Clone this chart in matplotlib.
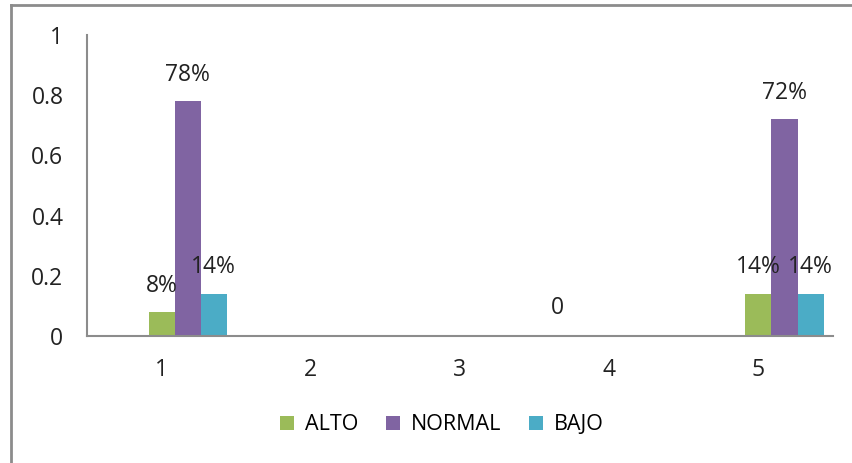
import matplotlib
matplotlib.use("Agg")
import matplotlib.pyplot as plt
import numpy as np

plt.rcParams['font.family'] = ['Open Sans', 'DejaVu Sans']

categories = [1, 2, 3, 4, 5]
series_names = ["ALTO", "NORMAL", "BAJO"]
alto = [0.08, 0, 0, 0, 0.14]
normal = [0.78, 0, 0, 0, 0.72]
bajo = [0.14, 0, 0, 0, 0.14]
alto_labels = ["8%", "", "", "", "14%"]
normal_labels = ["78%", "", "", "", "72%"]
bajo_labels = ["14%", "", "", "", "14%"]
zero_label_cat = 4
colors = ["#9BBB59", "#8064A2", "#4BACC6"]
fs = 16.5

fig = plt.figure(figsize=(8.52, 4.63), dpi=100)
ax = fig.add_axes([87 / 852, 1 - 336 / 463, 746 / 852, 301 / 463])

w = 0.175
x = np.array(categories, dtype=float)
all_vals = [alto, normal, bajo]
all_labels = [alto_labels, normal_labels, bajo_labels]

for i, (vals, labs) in enumerate(zip(all_vals, all_labels)):
    xs = x + i * w
    ax.bar(xs, vals, width=w, color=colors[i], label=series_names[i], align="center")
    for xi, v, lab in zip(xs, vals, labs):
        if lab:
            ax.annotate(lab, (xi, v), xytext=(0, 19), textcoords="offset points",
                        ha="center", va="center", fontsize=fs, color="#222222")

# stray zero label from the empty series
ax.annotate("0", (zero_label_cat - 2 * w, 0), xytext=(0, 20), textcoords="offset points",
            ha="center", va="center", fontsize=fs, color="#222222")

ax.set_xlim(0.5, 5.5)
ax.set_ylim(0, 1)
ax.set_xticks(categories)
ax.set_yticks([0, 0.2, 0.4, 0.6, 0.8, 1])
ax.set_yticklabels(["0", "0.2", "0.4", "0.6", "0.8", "1"])
ax.tick_params(axis="both", length=0, labelsize=fs, colors="#222222")
ax.tick_params(axis="x", pad=16)
ax.tick_params(axis="y", pad=17)

for s in ["top", "right"]:
    ax.spines[s].set_visible(False)
for s in ["left", "bottom"]:
    ax.spines[s].set_color("#8c8c8c")
    ax.spines[s].set_linewidth(1.5)

fig.legend(loc="center", bbox_to_anchor=(442 / 852, 1 - 425 / 463), ncol=3,
           frameon=False, fontsize=15.5, handlelength=0.65, handleheight=0.65,
           handletextpad=0.5, columnspacing=1.3)

# outer chart border (top and left visible)
fig.add_artist(plt.Line2D([11 / 852, 1], [1 - 5 / 463, 1 - 5 / 463], color="#8c8c8c", lw=2))
fig.add_artist(plt.Line2D([11 / 852, 11 / 852], [0, 1 - 5 / 463], color="#8c8c8c", lw=2))

fig.savefig("out.png", dpi=100)
